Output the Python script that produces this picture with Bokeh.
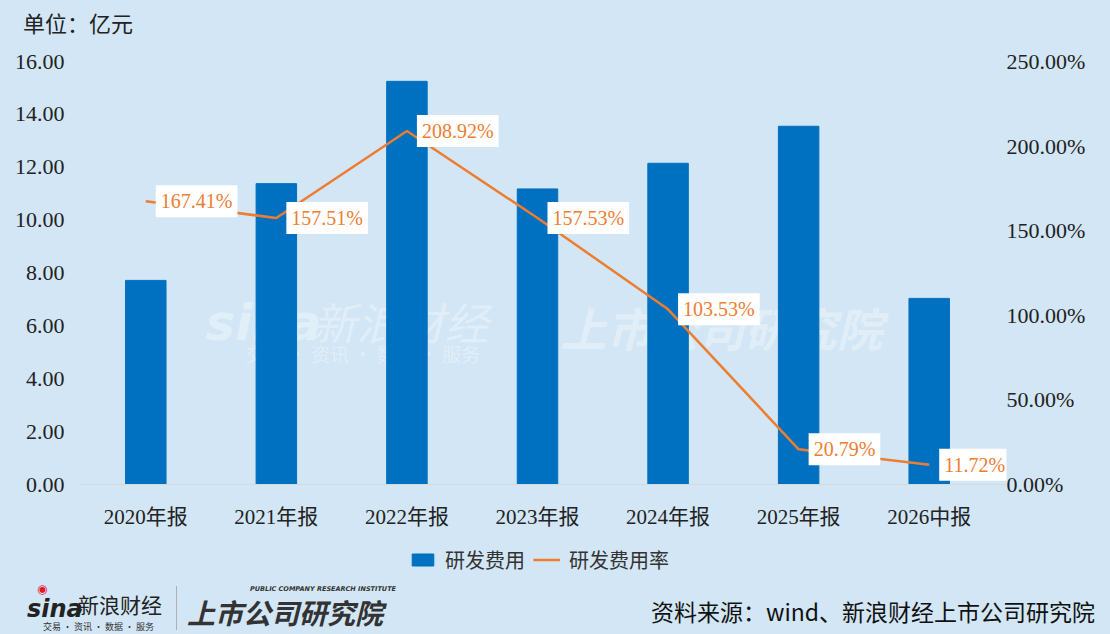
from bokeh.plotting import figure
from bokeh.models import (ColumnDataSource, Range1d, LinearAxis, Label, Div, Column,
                          Legend, LegendItem, PrintfTickFormatter, SingleIntervalTicker,
                          FixedTicker)
from bokeh.core.properties import value
from bokeh.embed import file_html
from bokeh.resources import INLINE

# 数据：研发费用（亿元）与研发费用率（%）
periods = ["2020年报", "2021年报", "2022年报", "2023年报", "2024年报", "2025年报", "2026中报"]
rd_expense = [7.72, 11.38, 15.25, 11.18, 12.15, 13.55, 7.04]
rd_rate = [167.41, 157.51, 208.92, 157.53, 103.53, 20.79, 11.72]
rate_labels = ["%.2f%%" % r for r in rd_rate]
x_pos = list(range(len(periods)))

BG = "#d2e6f5"
BLUE = "#0070c0"
ORANGE = "#ed7d31"
NUM_FONT = "Liberation Serif, Noto Sans CJK SC"
CJK_FONT = "Noto Sans CJK SC"

source = ColumnDataSource(data=dict(x=x_pos, period=periods, expense=rd_expense,
                                    rate=rd_rate, rate_text=rate_labels))

# x 轴右侧多留一点，让最后一个百分比标签不被裁掉
p = figure(width=1110, height=487, x_range=Range1d(-0.5, len(periods) - 0.408),
           y_range=Range1d(0, 16), output_backend="svg", toolbar_location=None,
           min_border_left=80, min_border_right=104, min_border_top=17, min_border_bottom=42)
p.extra_y_ranges = {"pct": Range1d(0, 250)}
p.title.visible = False

p.background_fill_color = BG
p.border_fill_color = BG
p.outline_line_color = None
p.grid.visible = False

# 柱：研发费用
p.vbar(x="x", top="expense", width=0.31, color=BLUE, source=source)
# 线：研发费用率
p.line(x="x", y="rate", y_range_name="pct", color=ORANGE, line_width=2.5, source=source)

# 左轴
p.yaxis.ticker = SingleIntervalTicker(interval=2)
p.yaxis.formatter = PrintfTickFormatter(format="%.2f")
# 右轴
right = LinearAxis(y_range_name="pct", ticker=SingleIntervalTicker(interval=50),
                   formatter=PrintfTickFormatter(format="%.2f%%"))
p.add_layout(right, "right")

for ax in [p.yaxis[0], right, p.xaxis[0]]:
    ax.major_tick_line_color = None
    ax.minor_tick_line_color = None
    ax.major_tick_out = 0
    ax.major_tick_in = 0
    ax.minor_tick_out = 0
    ax.major_label_text_font = NUM_FONT
    ax.major_label_text_color = "#222222"
for ax in [p.yaxis[0], right]:
    ax.axis_line_color = None
    ax.major_label_text_font_size = "22px"
p.yaxis[0].major_label_standoff = 16
right.major_label_standoff = 0

p.xaxis.ticker = FixedTicker(ticks=x_pos)
p.xaxis.major_label_overrides = {i: name for i, name in zip(x_pos, periods)}
p.xaxis.axis_line_color = "#d9d9d9"
p.xaxis.axis_line_width = 1
p.xaxis.major_label_text_font_size = "21px"
p.xaxis.major_label_standoff = 20

# 百分比标签（白底）
p.text(x="x", y="rate", text="rate_text", y_range_name="pct", source=source,
       x_offset=10, text_align="left", text_baseline="middle",
       text_color=ORANGE, text_font=value(NUM_FONT), text_font_size="20px",
       background_fill_color="white", padding=5)

# 水印
wm = dict(x_units="screen", y_units="screen", text_color="white", text_alpha=0.35,
          text_baseline="middle", level="underlay")
p.add_layout(Label(x=125, y=162, text="sina", text_font="DejaVu Sans",
                   text_font_style="bold italic", text_font_size="50px", **wm))
p.add_layout(Label(x=232, y=164, text="新浪财经", text_font=CJK_FONT,
                   text_font_style="italic", text_font_size="44px", **wm))
p.add_layout(Label(x=165, y=131, text="交易 · 资讯 · 数据 · 服务", text_font=CJK_FONT,
                   text_font_size="19px", **wm))
p.add_layout(Label(x=480, y=158, text="上市公司研究院", text_font=CJK_FONT,
                   text_font_style="bold italic", text_font_size="46px", **wm))

# 图例（单独一条，放在坐标轴下面；图形落在可见范围之外，只留图例）
leg = figure(width=1110, height=53, x_range=Range1d(100, 101), y_range=Range1d(1000, 1001),
             output_backend="svg", toolbar_location=None, min_border=0,
             x_axis_location=None, y_axis_location=None)
leg.title.visible = False
leg.background_fill_color = BG
leg.border_fill_color = BG
leg.outline_line_color = None
leg.grid.visible = False
leg_bar = leg.vbar(x="x", top="expense", width=0.31, color=BLUE, source=source)
leg_line = leg.line(x="x", y="rate", color=ORANGE, line_width=2.5, source=source)
legend = Legend(items=[LegendItem(label="研发费用", renderers=[leg_bar]),
                       LegendItem(label="研发费用率", renderers=[leg_line])],
                orientation="horizontal", location=(329, 10),
                background_fill_alpha=0, border_line_color=None,
                padding=0, margin=0, spacing=8, label_standoff=9,
                glyph_width=27, glyph_height=15, label_height=20,
                label_text_font=NUM_FONT, label_text_font_size="20px",
                label_text_color="#333333", label_text_baseline="middle")
leg.add_layout(legend, "center")

# 顶部：单位
header = Div(width=1110, height=44, margin=0, styles={"background-color": BG},
             text='<div style="position:relative;width:1110px;height:44px;">'
                  '<span style="position:absolute;left:23px;top:8px;font-size:22px;line-height:28px;'
                  'font-family:\'Noto Sans CJK SC\';color:#222;">单位：亿元</span></div>')

# 底部：标识与资料来源
footer_html = (
    '<div style="position:relative;width:1110px;height:50px;font-family:\'Noto Sans CJK SC\';">'
    '<span style="position:absolute;left:37px;top:0px;font-size:12px;line-height:10px;'
    'font-family:\'DejaVu Sans\';color:#e6162d;">◉</span>'
    '<span style="position:absolute;left:27px;top:16px;font-size:24px;line-height:19px;'
    'font-family:\'DejaVu Sans\';font-weight:bold;font-style:italic;color:#222;">sina</span>'
    '<span style="position:absolute;left:78px;top:10px;font-size:21px;line-height:21px;'
    'color:#222;">新浪财经</span>'
    '<span style="position:absolute;left:43px;top:38px;font-size:9px;line-height:9px;'
    'color:#333;white-space:nowrap;">交易 · 资讯 · 数据 · 服务</span>'
    '<div style="position:absolute;left:176px;top:2px;width:0;height:44px;'
    'border-left:1px solid #b0b0b0;"></div>'
    '<span style="position:absolute;left:250px;top:2px;font-size:6.5px;line-height:7px;'
    'font-family:\'DejaVu Sans\';font-weight:bold;font-style:italic;color:#333;'
    'white-space:nowrap;">PUBLIC COMPANY RESEARCH INSTITUTE</span>'
    '<span style="position:absolute;left:187px;top:14px;font-size:28px;line-height:28px;'
    'font-weight:bold;font-style:italic;color:#333;white-space:nowrap;">上市公司研究院</span>'
    '<span style="position:absolute;right:15px;top:12px;font-size:23px;line-height:30px;'
    'color:#111;white-space:nowrap;">资料来源：wind、新浪财经上市公司研究院</span>'
    '</div>'
)
footer = Div(width=1110, height=50, margin=0, styles={"background-color": BG}, text=footer_html)

page = Column(header, p, leg, footer, spacing=0, styles={"background-color": BG})

open("out.html", "w").write(file_html(page, INLINE))
